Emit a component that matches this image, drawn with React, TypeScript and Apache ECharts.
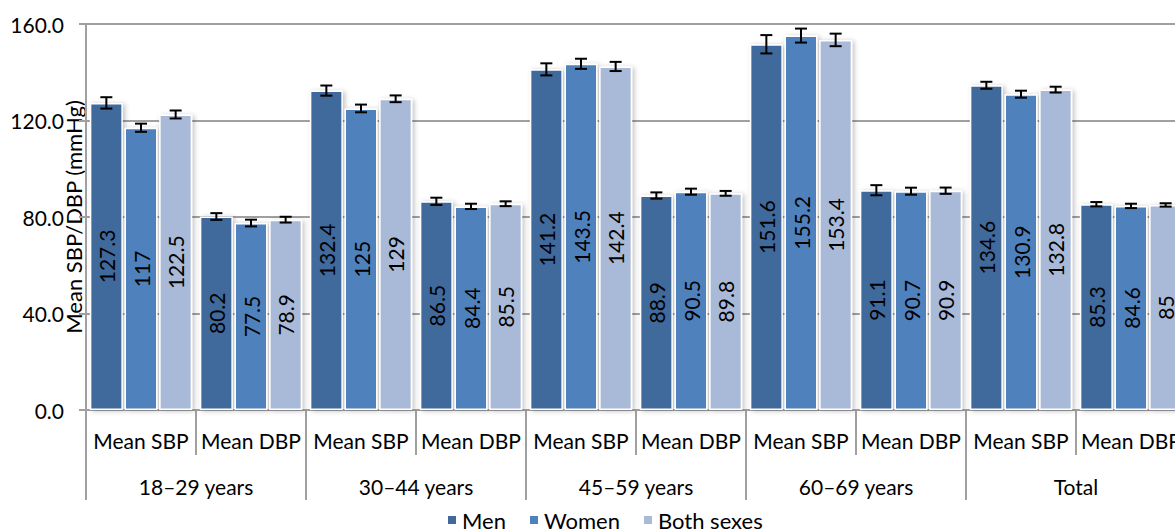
import React, { useEffect, useRef } from "react";
import * as echarts from "echarts";

const categories = ["Mean SBP", "Mean DBP", "Mean SBP", "Mean DBP", "Mean SBP", "Mean DBP", "Mean SBP", "Mean DBP", "Mean SBP", "Mean DBP"];
const groups = ["18–29 years", "30–44 years", "45–59 years", "60–69 years", "Total"];
const seriesNames = ["Men", "Women", "Both sexes"];
const men = [127.3, 80.2, 132.4, 86.5, 141.2, 88.9, 151.6, 91.1, 134.6, 85.3];
const women = [117, 77.5, 125, 84.4, 143.5, 90.5, 155.2, 90.7, 130.9, 84.6];
const both = [122.5, 78.9, 129, 85.5, 142.4, 89.8, 153.4, 90.9, 132.8, 85.0];
const menErr = [2.35, 1.4, 2.1, 1.5, 2.5, 1.3, 3.8, 2.1, 1.45, 0.9];
const womenErr = [1.7, 1.4, 1.6, 1.1, 2.1, 1.25, 2.9, 1.45, 1.45, 0.9];
const bothErr = [1.65, 1.2, 1.4, 1.0, 1.9, 1.0, 2.6, 1.3, 1.2, 0.7];
const yTicks = [0, 40, 80, 120, 160];

const colors = ["#41699C", "#4F81BD", "#A9B9D8"];
const FONT = "Lato, 'Noto Sans', sans-serif";

export default function App() {
  const ref = useRef<HTMLDivElement>(null);
  useEffect(() => {
    if (!ref.current) return;
    const chart = echarts.init(ref.current, undefined, { renderer: "svg" });
    const values = [men, women, both];
    const errs = [menErr, womenErr, bothErr];
    const barWidth = 33;
    const gap = 1.65;
    const offsets = [-(barWidth + gap), 0, barWidth + gap];

    const errData: any[] = [];
    values.forEach((arr, s) => {
      arr.forEach((v, i) => {
        errData.push([i, v, errs[s][i], s]);
      });
    });

    const gray = "#A0A0A0";

    chart.setOption({
      animation: false,
      backgroundColor: "#ffffff",
      textStyle: { fontFamily: FONT },
      color: colors,
      grid: {
        left: 86,
        top: 24,
        width: 1100,
        height: 386,
        containLabel: false,
        outerBoundsMode: "none",
      },
      legend: {
        data: seriesNames,
        left: 441,
        top: 504,
        itemWidth: 10,
        itemHeight: 10,
        itemGap: 22,
        icon: "rect",
        textStyle: { fontSize: 22, color: "#000", fontFamily: FONT },
      },
      xAxis: [
        {
          type: "category",
          data: categories,
          position: "bottom",
          axisLine: { show: true, lineStyle: { color: gray, width: 2 } },
          axisTick: { show: true, length: 45, interval: 0, lineStyle: { color: gray, width: 2 } },
          axisLabel: { interval: 0, fontSize: 21, color: "#000", margin: 20, fontFamily: FONT, hideOverlap: false },
        },
        {
          type: "category",
          data: groups,
          position: "bottom",
          offset: 0,
          axisLine: { show: false },
          axisTick: { show: true, length: 90, interval: 0, lineStyle: { color: gray, width: 2 } },
          axisLabel: { interval: 0, fontSize: 21, color: "#000", margin: 66, fontFamily: FONT, hideOverlap: false },
        },
      ],
      yAxis: {
        type: "value",
        min: yTicks[0],
        max: yTicks[yTicks.length - 1],
        interval: 40,
        name: "Mean SBP/DBP (mmHg)",
        nameLocation: "middle",
        nameGap: 2,
        nameMoveOverlap: false,
        nameTextStyle: { fontSize: 22, color: "#000", fontFamily: FONT },
        axisLine: { show: true, lineStyle: { color: gray, width: 2 } },
        axisTick: { show: true, length: 7, lineStyle: { color: gray, width: 2 } },
        axisLabel: {
          fontSize: 21,
          color: "#000",
          margin: 22,
          fontFamily: FONT,
          formatter: (v: number) => v.toFixed(1),
        },
        splitLine: { show: true, lineStyle: { color: gray, width: 2 } },
      },
      series: [
        ...values.map((arr, s) => ({
          name: seriesNames[s],
          type: "bar",
          xAxisIndex: 0,
          data: arr,
          barWidth: barWidth,
          barGap: "5%",
          itemStyle: {
            color: colors[s],
            borderColor: "#ffffff",
            borderWidth: 1.5,
            shadowBlur: 5,
            shadowColor: "rgba(0,0,0,0.25)",
            shadowOffsetX: 2,
            shadowOffsetY: 1,
          },
          label: {
            show: true,
            position: "inside",
            rotate: 90,
            fontSize: 21,
            color: "#000",
            fontFamily: FONT,
            formatter: (p: any) => String(p.value),
          },
          z: 2,
        })),
        {
          type: "custom",
          name: "errors",
          xAxisIndex: 0,
          data: errData,
          encode: { x: 0, y: 1 },
          z: 5,
          silent: true,
          renderItem: (params: any, api: any) => {
            const i = api.value(0);
            const v = api.value(1);
            const e = api.value(2);
            const s = api.value(3);
            const cx = api.coord([i, v])[0] + offsets[s];
            const yT = api.coord([i, v + e])[1];
            const yB = api.coord([i, v - e])[1];
            const hw = 6;
            const st = { stroke: "#000", lineWidth: 2 };
            return {
              type: "group",
              children: [
                { type: "line", shape: { x1: cx, y1: yT, x2: cx, y2: yB }, style: st },
                { type: "line", shape: { x1: cx - hw, y1: yT, x2: cx + hw, y2: yT }, style: st },
                { type: "line", shape: { x1: cx - hw, y1: yB, x2: cx + hw, y2: yB }, style: st },
              ],
            };
          },
        },
      ],
    });
    return () => chart.dispose();
  }, []);
  return (
    <div
      ref={ref}
      style={{ position: "fixed", left: 0, top: 0, width: 1175, height: 531 }}
    />
  );
}
